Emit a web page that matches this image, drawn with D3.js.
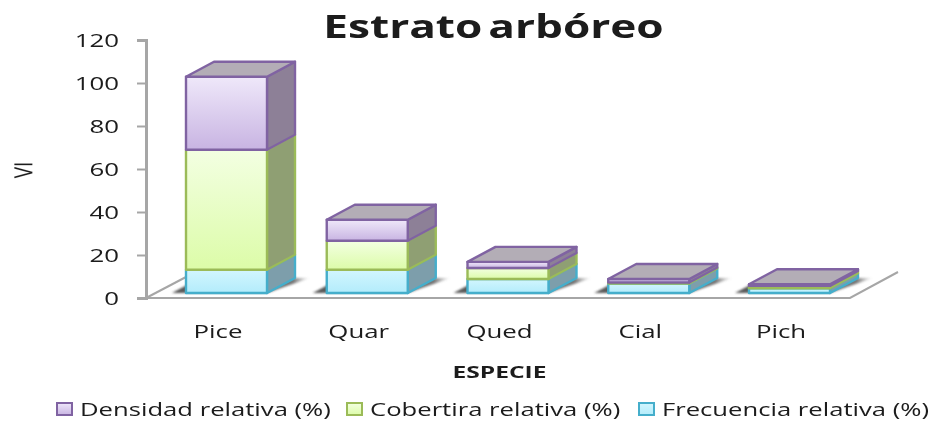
<!DOCTYPE html>
<html><head><meta charset="utf-8">
<script src="https://cdn.jsdelivr.net/npm/d3@7"></script>
<style>
html,body{margin:0;padding:0;background:#fff}
svg{display:block}
text{font-family:"Open Sans",sans-serif;fill:#1a1a1a}
</style></head><body>
<div id="chart"></div>
<script>
const categories = ["Pice","Quar","Qued","Cial","Pich"];
const frecuencia = [10.8,10.8,6.5,4.4,2.2];
const cobertura  = [55.8,13.5,5.1,0.5,1.1];
const densidad   = [34,9.8,2.9,1.6,0.8];
const yTicks = [0,20,40,60,80,100,120];
const seriesNames = ["Frecuencia relativa (%)","Cobertira relativa (%)","Densidad relativa (%)"];
const seriesData = [frecuencia,cobertura,densidad];
const legendOrder = [2,1,0];
const legendX = [57,347,639];
const palette = [
 {stroke:"#45aecb",top:"#d2f6fe",bot:"#b3ecfb",side:"#7d9eab"},
 {stroke:"#9bbb59",top:"#f3ffe2",bot:"#dcfca8",side:"#8f9f73"},
 {stroke:"#8064a2",top:"#efe8fa",bot:"#c8b4e2",side:"#8d8097"}
];
const W=933,H=421,dx=28,dy=-15,sx=1.36;
const svg=d3.select("#chart").append("svg").attr("width",W).attr("height",H);
const defs=svg.append("defs");
palette.forEach((p,i)=>{
  const g=defs.append("linearGradient").attr("id","g"+i).attr("x1",0).attr("y1",0).attr("x2",0).attr("y2",1);
  g.append("stop").attr("offset",0).attr("stop-color",p.top);
  g.append("stop").attr("offset",1).attr("stop-color",p.bot);
});
defs.append("filter").attr("id","soft").attr("x","-5%").attr("y","-5%").attr("width","110%").attr("height","110%")
  .append("feGaussianBlur").attr("stdDeviation",0.5);
const sh=defs.append("linearGradient").attr("id","shadow");
sh.append("stop").attr("offset",0).attr("stop-color","#444").attr("stop-opacity",.9);
sh.append("stop").attr("offset",.88).attr("stop-color","#555").attr("stop-opacity",.8);
sh.append("stop").attr("offset",1).attr("stop-color","#888").attr("stop-opacity",0);
defs.append("filter").attr("id","blur2").attr("x","-10%").attr("y","-30%").attr("width","120%").attr("height","160%")
  .append("feGaussianBlur").attr("stdDeviation",1);

const y=d3.scaleLinear().domain([0,120]).range([298,40]);
const yBar=v=>y(v)-5;           // bars stand 5px in from the floor's front edge
const x=d3.scaleBand().domain(categories).range([186,830]).paddingInner(0.4245).paddingOuter(0);
const root=svg.append("g").attr("filter","url(#soft)");

// floor
const gridCol="#a6a6a6";
root.append("path").attr("fill","none").attr("stroke",gridCol).attr("stroke-width",2)
  .attr("d",d3.line()([[146,298],[186,277]]));
root.append("path").attr("fill","none").attr("stroke",gridCol).attr("stroke-width",2)
  .attr("d",d3.line()([[146,298],[850,298],[898,272]]));

// y axis
const axis=root.append("g").attr("transform","translate(146,0)")
  .call(d3.axisLeft(y).tickValues(yTicks).tickSize(9).tickSizeOuter(9));
axis.selectAll("path,line").attr("stroke",gridCol);
axis.select("path").attr("stroke-width",3);
axis.selectAll("line").attr("stroke-width",2);
axis.selectAll("text").attr("x",0).attr("font-size",19).attr("fill","#333")
  .attr("text-anchor","end").attr("transform",`translate(-27,0) scale(${sx},1)`);

// shadows
categories.forEach((c)=>{
  const x0=x(c),w=x.bandwidth(),b=yBar(0);
  root.append("path").attr("fill","url(#shadow)").attr("filter","url(#blur2)")
    .attr("d",d3.line()([[x0-14,b],[x0+w,b],[x0+w+dx+15,b+dy],[x0+14,b+dy]])+"Z");
});

// bars
const stacked=d3.stack().keys([0,1,2]).value((d,k)=>seriesData[k][d])(categories.map((c,i)=>i));
categories.forEach((c,i)=>{
  const x0=x(c),x1=x0+x.bandwidth();
  stacked.forEach((layer,k)=>{
    const p=palette[k];
    const yb=yBar(layer[i][0]),yt=yBar(layer[i][1]);
    const g=root.append("g").attr("stroke",p.stroke).attr("stroke-width",2.4).attr("stroke-linejoin","round");
    g.append("path").attr("fill",p.side)
      .attr("d",d3.line()([[x1,yb],[x1+dx,yb+dy],[x1+dx,yt+dy],[x1,yt]])+"Z");
    g.append("rect").attr("x",x0).attr("y",yt).attr("width",x1-x0).attr("height",Math.max(yb-yt,0.1)).attr("fill",`url(#g${k})`);
    if(k===2) g.append("path").attr("fill","#b3adb6")
      .attr("d",d3.line()([[x0,yt],[x0+dx,yt+dy],[x1+dx,yt+dy],[x1,yt]])+"Z");
  });
});

// category labels
root.append("g").selectAll("text").data(categories).join("text")
  .attr("text-anchor","middle").attr("font-size",19).attr("fill","#333")
  .attr("transform",c=>`translate(${x(c)+x.bandwidth()/2-8.5},338) scale(${sx},1)`).text(c=>c);

// titles
root.append("text").attr("text-anchor","middle").attr("font-size",32).attr("font-weight",700).attr("fill","#000")
  .attr("word-spacing",-4)
  .attr("transform",`translate(493.5,37.5) scale(1.38,1)`).text("Estrato arbóreo");
root.append("text").attr("text-anchor","middle").attr("font-size",16.5).attr("font-weight",700)
  .attr("transform",`translate(499.5,378) scale(1.49,1)`).text("ESPECIE");
root.append("text").attr("transform",`translate(32,170) rotate(-90) scale(1,${sx})`).attr("text-anchor","middle")
  .attr("font-size",19).text("VI");

// legend
const leg=root.append("g").selectAll("g").data(legendOrder).join("g")
  .attr("transform",(k,i)=>`translate(${legendX[i]},403)`);
leg.append("rect").attr("width",15).attr("height",12)
  .attr("fill",k=>`url(#g${k})`).attr("stroke",k=>palette[k].stroke).attr("stroke-width",2);
leg.append("text").attr("font-size",18).attr("fill","#333")
  .attr("transform",`translate(23,13) scale(1.425,1)`).text(k=>seriesNames[k]);
</script></body></html>
